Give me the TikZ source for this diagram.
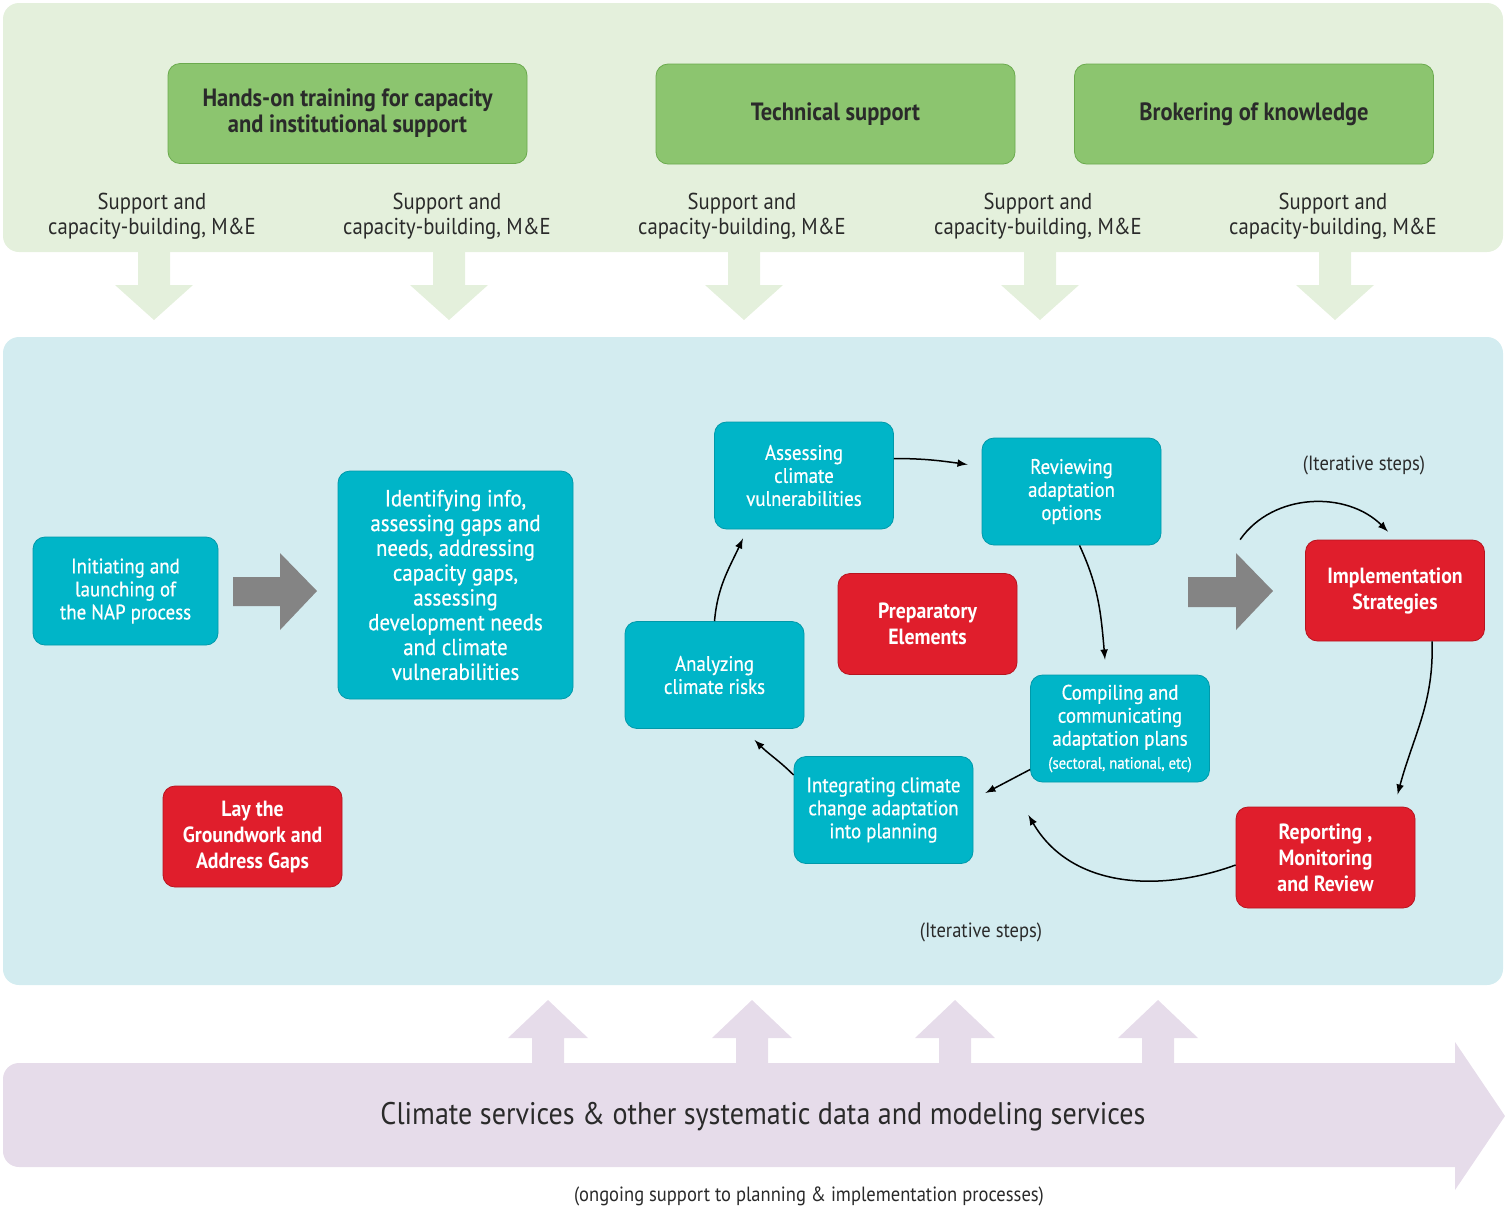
\documentclass[tikz,border=0pt]{standalone}
\usepackage{fontspec}
\setmainfont{PT Sans}[FakeStretch=0.9]
\newfontfamily\stepfont{PT Sans}[FakeStretch=0.9,FakeBold=0.5]
\usepackage{tikz}

\definecolor{greenpanel}{HTML}{E4F0DC}
\definecolor{helpfill}{HTML}{8CC56F}
\definecolor{helpline}{HTML}{6BAA4E}
\definecolor{bluepanel}{HTML}{D3ECF0}
\definecolor{stepfill}{HTML}{00B5C8}
\definecolor{stepline}{HTML}{0099AA}
\definecolor{phasefill}{HTML}{E01E2C}
\definecolor{phaseline}{HTML}{B8141F}
\definecolor{blockgray}{HTML}{848484}
\definecolor{lilac}{HTML}{E6DCEA}
\definecolor{darktext}{HTML}{2A2A2A}

\begin{document}
\begin{tikzpicture}[x=0.5pt,y=-0.5pt,
	helpbox/.style={draw=helpline,fill=helpfill,rounded corners=6pt,minimum width=179.5pt,minimum height=50pt,align=center,text=darktext,font=\bfseries\fontsize{12.5}{13}\selectfont},
	stepbox/.style={draw=stepline,fill=stepfill,rounded corners=6pt,minimum width=89.5pt,minimum height=53.5pt,inner sep=2pt,align=center,text=white,font=\stepfont\fontsize{10.5}{11.5}\selectfont},
	phasebox/.style={draw=phaseline,fill=phasefill,rounded corners=6pt,minimum width=89.5pt,minimum height=50.5pt,align=center,text=white,font=\bfseries\fontsize{11}{13}\selectfont},
	supportlbl/.style={align=center,text=darktext,font=\fontsize{11.5}{12.5}\selectfont},
	smalllbl/.style={text=darktext,font=\fontsize{10.3}{12}\selectfont},
	flow/.style={-latex,line width=0.75pt,black}]
				\useasboundingbox (0,0) rectangle (1505,1207);
				% panels
				\fill[greenpanel,rounded corners=8pt] (3,3) rectangle (1503,252);
				\fill[bluepanel,rounded corners=8pt] (3,337) rectangle (1503,985);
				\foreach \cx in {154,449,744,1040,1335}
					\fill[greenpanel] (\cx-16,252)--(\cx+16,252)--(\cx+16,285)--(\cx+39,285)--(\cx,320)--(\cx-39,285)--(\cx-16,285)--cycle;
				% support boxes
				\node[helpbox] (train) at (347.5,113.5) {Hands-on training for capacity\\and institutional support};
				\node[helpbox] (tech) at (835.5,114) {Technical support};
				\node[helpbox] (broker) at (1254,114) {Brokering of knowledge};
				\foreach \cx [count=\i] in {152,447,742,1038,1333}
					\node[supportlbl] (supp\i) at (\cx,216) {Support and\\capacity-building, M\&E};
				% block arrows
				\fill[blockgray] (233,577)--(280,577)--(280,553)--(317,591)--(280,630)--(280,606)--(233,606)--cycle;
				\fill[blockgray] (1188,577)--(1236,577)--(1236,553)--(1273,591)--(1236,630)--(1236,607)--(1188,607)--cycle;
				% steps
				\node[stepbox,minimum width=92.5pt,minimum height=54pt] (init) at (125.5,591) {Initiating and\\launching of\\the NAP process};
				\node[stepbox,minimum width=117.5pt,minimum height=114pt,font=\stepfont\fontsize{11.6}{12.4}\selectfont] (ident) at (455.5,585) {Identifying info,\\assessing gaps and\\needs, addressing\\capacity gaps,\\assessing\\development needs\\and climate\\vulnerabilities};
				\node[stepbox] (assess) at (804,475.5) {Assessing\\climate\\vulnerabilities};
				\node[stepbox] (review) at (1071.5,491.5) {Reviewing\\adaptation\\options};
				\node[stepbox] (analyz) at (714.5,675) {Analyzing\\climate risks};
				\node[stepbox] (compile) at (1120,728.5) {Compiling and\\communicating\\adaptation plans\\{\fontsize{8.2}{10}\selectfont(sectoral, national, etc)}};
				\node[stepbox] (integr) at (883.5,810) {Integrating climate\\change adaptation\\into planning};
				% phases
				\node[phasebox] (prep) at (927.5,624) {Preparatory\\Elements};
				\node[phasebox] (impl) at (1395,590.5) {Implementation\\Strategies};
				\node[phasebox] (report) at (1325.5,857.5) {Reporting ,\\Monitoring\\and Review};
				\node[phasebox] (lay) at (252.5,836.5) {Lay the\\Groundwork and\\Address Gaps};
				% cycle
				\draw[flow] ([yshift=8.5pt]assess.east) to[out=0,in=172] ([xshift=-7pt,yshift=13.5pt]review.west);
				\draw[flow] ([xshift=4pt]review.south) to[out=-65,in=95] ([xshift=-7.5pt,yshift=7.5pt]compile.north);
				\draw[flow] ([yshift=-20.5pt]compile.west) -- ([xshift=6pt,yshift=8.5pt]integr.east);
				\draw[flow] ([yshift=17.5pt]integr.west) to[out=135,in=-45] ([xshift=20pt,yshift=-5.5pt]analyz.south);
				\draw[flow] (analyz.north) to[out=85,in=-115] ([xshift=-30.5pt,yshift=-4.5pt]assess.south);
				\draw[flow] ([xshift=-32.5pt]impl.north west) to[out=55,in=135] ([xshift=-3.5pt,yshift=4pt]impl.north);
				\draw[flow] ([xshift=18.5pt]impl.south) to[out=-88,in=75] ([xshift=36pt,yshift=6pt]report.north);
				\draw[flow] ([yshift=-3.75pt]report.west) to[out=200,in=-60] ([xshift=27.5pt,yshift=-2.5pt]integr.east);
				\node[smalllbl] (iter1) at (1364,465) {(Iterative steps)};
				\node[smalllbl] (iter2) at (981,932) {(Iterative steps)};
				% services
				\foreach \cx in {548,752,955,1158}
					\fill[lilac] (\cx-16,1065)--(\cx-16,1038)--(\cx-40,1038)--(\cx,1000)--(\cx+40,1038)--(\cx+16,1038)--(\cx+16,1065)--cycle;
				\fill[lilac] (1455,1167)--(1455,1190)--(1505,1116)--(1455,1042)--(1455,1063)[rounded corners=8pt]--(3,1063)--(3,1167)[sharp corners]--cycle;
				\node[text=darktext,font=\fontsize{15.6}{18}\selectfont] (services) at (763,1117) {Climate services \& other systematic data and modeling services};
				\node[smalllbl] (ongoing) at (809,1196) {(ongoing support to planning \& implementation processes)};
			\end{tikzpicture}
\end{document}
